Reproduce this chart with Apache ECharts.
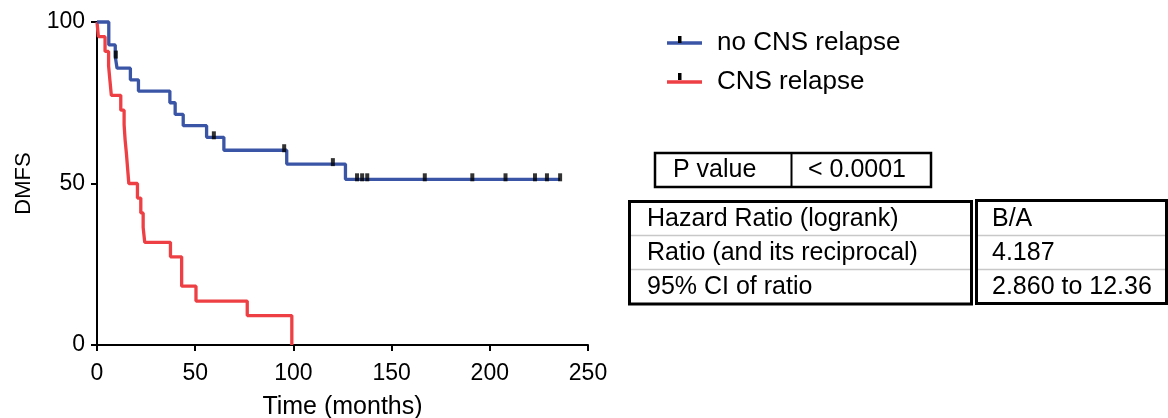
<!DOCTYPE html>
<html>
<head>
<meta charset="utf-8">
<script src="https://cdn.jsdelivr.net/npm/echarts@6/dist/echarts.min.js"></script>
<style>
  html, body { margin: 0; padding: 0; background: #fff; }
  #chart { width: 1168px; height: 418px; }
</style>
</head>
<body>
<div id="chart"></div>
<script>
// survival curves (months, % DMFS)
const blueTimes = [0, 6.0, 9.3, 10.2, 17.0, 21.1, 37.1, 39.8, 43.9, 55.8, 64.6, 96.6, 126.5, 235.8];
const blueSurv = [100, 92.9, 89.3, 85.7, 82.1, 78.6, 75.0, 71.4, 67.9, 64.3, 60.3, 56.0, 51.3, 51.3];
const blueCensorTimes = [9.6, 59.5, 95.3, 120.1, 132.4, 135.0, 137.6, 166.9, 191.1, 208.0, 223.0, 229.1, 235.8];
const blueCensorSurv = [89.3, 64.3, 60.3, 56.0, 51.3, 51.3, 51.3, 51.3, 51.3, 51.3, 51.3, 51.3, 51.3];

const redTimes = [0, 0.7, 4.1, 5.9, 6.6, 7.3, 12.1, 13.8, 14.3, 15.0, 15.6, 16.2, 20.6, 22.3, 23.5, 24.3, 37.4, 43.1, 50.4, 76.5, 99.2];
const redSurv = [100, 95.45, 90.9, 86.4, 81.8, 77.3, 72.7, 68.2, 63.6, 59.1, 54.5, 50.0, 45.5, 40.9, 36.4, 31.8, 27.3, 18.2, 13.6, 9.1, 0];

const seriesNames = ["no CNS relapse", "CNS relapse"];

const pTable = [["P value", "< 0.0001"]];
const hrLabels = ["Hazard Ratio (logrank)", "Ratio (and its reciprocal)", "95% CI of ratio"];
const hrValues = ["B/A", "4.187", "2.860 to 12.36"];

const FONT = "'Liberation Sans', Arial, Helvetica, sans-serif";
const BLUE = "#3a55a6";
const RED = "#ee4044";

function zip(xs, ys) {
	return xs.map((x, i) => [x, ys[i]]);
}

const chart = echarts.init(document.getElementById("chart"));

const graphics = [];
// little censor ticks on the legend lines
[42, 79].forEach(function (y) {
	graphics.push({ type: "rect", shape: { x: 678, y: y - 6, width: 3.5, height: 7 }, style: { fill: "#000" }, z: 110 });
});

// P value box
graphics.push({ type: "rect", shape: { x: 655, y: 153, width: 276, height: 34 }, style: { fill: "none", stroke: "#000", lineWidth: 2.5 } });
graphics.push({ type: "line", shape: { x1: 791.5, y1: 153, x2: 791.5, y2: 187 }, style: { stroke: "#000", lineWidth: 2 } });
graphics.push({ type: "text", style: { text: pTable[0][0], x: 673, y: 170, verticalAlign: "middle", font: "25px " + FONT, fill: "#000" } });
graphics.push({ type: "text", style: { text: pTable[0][1], x: 808, y: 170, verticalAlign: "middle", font: "25px " + FONT, fill: "#000" } });

// hazard ratio table
graphics.push({ type: "rect", shape: { x: 629.5, y: 201.5, width: 342, height: 102.5 }, style: { fill: "none", stroke: "#000", lineWidth: 3 } });
graphics.push({ type: "rect", shape: { x: 976.5, y: 200.5, width: 190, height: 103 }, style: { fill: "none", stroke: "#000", lineWidth: 3 } });
[235.5, 269.5].forEach(function (y) {
	graphics.push({ type: "line", shape: { x1: 631, y1: y, x2: 970, y2: y }, style: { stroke: "#c8c8c8", lineWidth: 1.5 } });
	graphics.push({ type: "line", shape: { x1: 978, y1: y, x2: 1165, y2: y }, style: { stroke: "#c8c8c8", lineWidth: 1.5 } });
});
const rowY = [219, 253, 287];
hrLabels.forEach(function (t, i) {
	graphics.push({ type: "text", style: { text: t, x: 647, y: rowY[i], verticalAlign: "middle", font: "25px " + FONT, fill: "#000" } });
	graphics.push({ type: "text", style: { text: hrValues[i], x: 992, y: rowY[i], verticalAlign: "middle", font: "25px " + FONT, fill: "#000" } });
});

chart.setOption({
	animation: false,
	backgroundColor: "#fff",
	textStyle: { fontFamily: FONT },
	grid: { left: 97, top: 22, width: 491, height: 323, outerBoundsMode: "none" },
	legend: {
		data: seriesNames,
		orient: "vertical",
		left: 662,
		top: 25,
		itemGap: 13,
		itemWidth: 35,
		itemHeight: 3.5,
		icon: "rect",
		textStyle: { fontSize: 26, color: "#000", fontFamily: FONT, padding: [0, 0, 0, 10] },
	},
	xAxis: {
		type: "value",
		min: 0,
		max: 250,
		interval: 50,
		name: "Time (months)",
		nameLocation: "middle",
		nameGap: 50,
		nameTextStyle: { fontSize: 25, color: "#000" },
		axisLine: { lineStyle: { color: "#000", width: 2 } },
		axisTick: { length: 6, lineStyle: { color: "#000", width: 2 } },
		axisLabel: { fontSize: 23, color: "#000", margin: 17 },
		splitLine: { show: false },
	},
	yAxis: {
		type: "value",
		min: 0,
		max: 100,
		interval: 50,
		name: "DMFS",
		nameLocation: "middle",
		nameGap: 62,
		nameTextStyle: { fontSize: 22, color: "#000" },
		axisLine: { show: true, lineStyle: { color: "#000", width: 2 } },
		axisTick: { show: true, length: 6, lineStyle: { color: "#000", width: 2 } },
		axisLabel: { fontSize: 23, color: "#000", margin: 12 },
		splitLine: { show: false },
	},
	series: [
		{
			name: seriesNames[0],
			type: "line",
			step: "end",
			data: zip(blueTimes, blueSurv),
			showSymbol: false,
			clip: false,
			color: BLUE,
			lineStyle: { width: 3.3, color: BLUE },
			z: 3,
		},
		{
			name: seriesNames[1],
			type: "line",
			step: "end",
			data: zip(redTimes, redSurv),
			showSymbol: false,
			clip: false,
			color: RED,
			lineStyle: { width: 3.3, color: RED },
			z: 2,
		},
		{
			name: "censored",
			type: "scatter",
			data: zip(blueCensorTimes, blueCensorSurv),
			symbol: "rect",
			symbolSize: [4, 8],
			symbolOffset: [0, -2],
			itemStyle: { color: "#000" },
			z: 4,
		},
	],
	graphic: graphics,
});
</script>
</body>
</html>
